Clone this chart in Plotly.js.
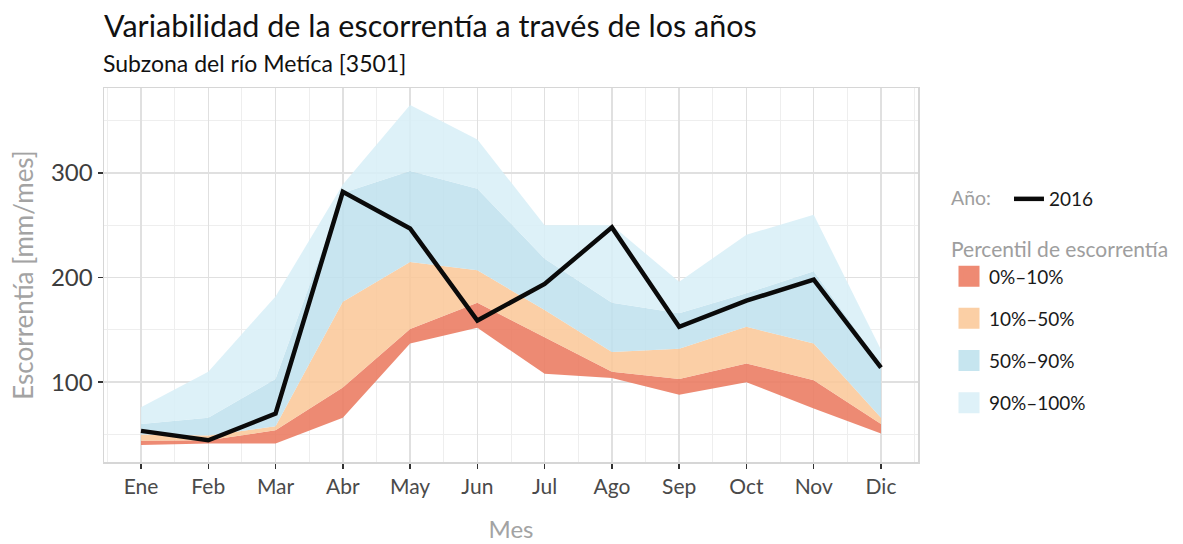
<!DOCTYPE html>
<html>
<head>
<meta charset="utf-8">
<script src="https://cdn.plot.ly/plotly-3.0.1.min.js"></script>
<style>
  html, body { margin: 0; padding: 0; background: #fff; }
  #chart { width: 1183px; height: 544px; }
</style>
</head>
<body>
<div id="chart"></div>
<script>
// ---- Data ----
const months = ["Ene","Feb","Mar","Abr","May","Jun","Jul","Ago","Sep","Oct","Nov","Dic"];
const p0   = [40, 41.5, 41.5, 66, 137, 152, 108, 104, 88, 100, 75, 51];
const p10  = [44, 44.5, 54, 95, 151, 176, 143, 110, 103, 118, 102, 60];
const p50  = [50, 49, 58, 177, 215, 207, 169, 129, 132, 153, 137, 66];
const p90  = [60, 66, 103, 281, 302, 285, 218, 176, 166, 185, 206, 117];
const p100 = [76, 110, 182, 289, 365, 332, 250, 250, 196, 241, 260, 131];
const y2016 = [53.5, 44.5, 70, 282, 247, 159, 194, 248, 153, 178, 198, 114];
const bandNames = ["0%–10%", "10%–50%", "50%–90%", "90%–100%"];
const yearLabel = "2016";
const titleText = "Variabilidad de la escorrentía a través de los años";
const subtitleText = "Subzona del río Metíca [3501]";

// ---- Styles ----
const bandColors = ["rgba(235,122,96,0.88)", "rgba(250,199,150,0.85)", "rgba(190,225,237,0.85)", "rgba(215,238,247,0.85)"];
const legendColors = ["#EE8A73", "#FBCFA5", "#C6E5EF", "#DEF1F8"];
const monthIdx = months.map((m, i) => i + 1);

const bounds = [p0, p10, p50, p90, p100];
const traces = [];
traces.push({
  x: monthIdx, y: p0, type: "scatter", mode: "lines",
  line: { width: 0 }, showlegend: false, hoverinfo: "skip"
});
for (let k = 0; k < 4; k++) {
  traces.push({
    x: monthIdx, y: bounds[k + 1], type: "scatter", mode: "lines",
    line: { width: 0 }, fill: "tonexty", fillcolor: bandColors[k],
    showlegend: false, name: bandNames[k]
  });
}
traces.push({
  x: monthIdx, y: y2016, type: "scatter", mode: "lines",
  line: { color: "#0a0a0a", width: 4.5 }, name: yearLabel,
  legend: "legend", showlegend: true
});
for (let k = 0; k < 4; k++) {
  traces.push({
    x: [null], y: [null], type: "scatter", mode: "markers",
    marker: { symbol: "square", size: 16, color: legendColors[k], line: { color: legendColors[k], width: 5 } },
    name: bandNames[k], legend: "legend2", legendgroup: "g" + k, showlegend: true
  });
}

const PL = 104, PR = 918, PT = 88, PB = 462;
const W = 1183, H = 544;
const pw = PR - PL, ph = PB - PT;
const gx = px => (px - PL) / pw;
const gy = py => (PB - py) / ph;

const layout = {
  width: W, height: H,
  margin: { l: PL, r: W - PR, t: PT, b: H - PB, pad: 0 },
  paper_bgcolor: "#ffffff", plot_bgcolor: "#ffffff",
  font: { family: "Lato, 'Open Sans', sans-serif", color: "#333" },
  title: {
    text: titleText,
    x: PL / W, xref: "container", xanchor: "left",
    y: 1 - 26 / H, yref: "container", yanchor: "middle",
    font: { size: 30.5, color: "#111" }
  },
  annotations: [{
    text: subtitleText, xref: "paper", yref: "paper",
    x: 0, y: gy(63), xanchor: "left", yanchor: "middle", xshift: -3,
    showarrow: false, font: { size: 23, color: "#111" }
  }],
  xaxis: {
    range: [0.45, 12.55], tickmode: "array", tickvals: monthIdx, ticktext: months,
    showgrid: true, gridcolor: "#E0E0E0", gridwidth: 1.5,
    zeroline: false, showline: true, mirror: true, linecolor: "#D6D6D6", linewidth: 1.5,
    ticks: "outside", ticklen: 5, tickwidth: 1.5, tickcolor: "#333",
    tickfont: { size: 21, color: "#4a4a4a" },
    minor: { tickmode: "linear", tick0: 0.5, dtick: 1, showgrid: true, gridcolor: "#EEEEEE", gridwidth: 1, ticklen: 0 },
    title: { text: "Mes", font: { size: 24, color: "#a3a3a3" }, standoff: 24 },
    automargin: false
  },
  yaxis: {
    range: [23.75, 381.25], tickmode: "array", tickvals: [100, 200, 300],
    showgrid: true, gridcolor: "#E0E0E0", gridwidth: 1.5,
    zeroline: false, showline: true, mirror: true, linecolor: "#D6D6D6", linewidth: 1.5,
    ticks: "outside", ticklen: 5, tickwidth: 1.5, tickcolor: "#333",
    tickfont: { size: 24, color: "#3d3d3d" },
    minor: { tickmode: "linear", tick0: 0, dtick: 50, showgrid: true, gridcolor: "#EEEEEE", gridwidth: 1, ticklen: 0 },
    title: { text: "Escorrentía [mm/mes]", font: { size: 26, color: "#a3a3a3" }, standoff: 10 },
    automargin: false
  },
  legend: {
    x: gx(949), y: gy(199), xanchor: "left", yanchor: "middle",
    orientation: "h", bgcolor: "rgba(0,0,0,0)",
    title: { text: "Año:\u00a0\u00a0", side: "left", font: { size: 19.5, color: "#9e9e9e" } },
    font: { size: 19, color: "#1a1a1a" }
  },
  legend2: {
    x: gx(949), y: gy(230), xanchor: "left", yanchor: "top",
    orientation: "v", bgcolor: "rgba(0,0,0,0)", tracegroupgap: 14.5,
    title: { text: "Percentil de escorrentía", font: { size: 21, color: "#9e9e9e" } },
    font: { size: 19, color: "#1a1a1a" }
  },
  showlegend: true
};

Plotly.newPlot("chart", traces, layout, { displayModeBar: false, staticPlot: true });
</script>
</body>
</html>
